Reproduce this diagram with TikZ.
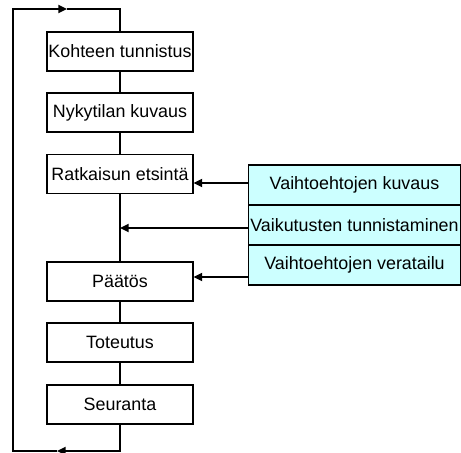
\documentclass[tikz,border=0pt]{standalone}
\usepackage{fontspec}
\setmainfont{Liberation Sans}
\usetikzlibrary{arrows.meta}
\definecolor{optfill}{HTML}{CCFFFF}
\tikzset{
  stepbox/.style={draw, line width=0.8pt, fill=white, inner sep=0pt,
    minimum width=109.5pt, minimum height=29.25pt, font=\fontsize{13.4}{15}\selectfont},
  optbox/.style={draw, line width=0.8pt, fill=optfill, inner sep=0pt,
    minimum width=159pt, minimum height=30pt, font=\fontsize{13.4}{15}\selectfont},
  flow/.style={line width=1.3pt},
  arr/.style={line width=1.3pt, -{Triangle[length=6.5pt,width=6pt]}}
}
\begin{document}
\begin{tikzpicture}[x=0.75pt, y=-0.75pt]
    % Frame of the picture
    \useasboundingbox (0,0) rectangle (461,453);

    % Main steps, top to bottom
    \node[stepbox] (ko) at (120, 51.5) {Kohteen tunnistus};
    \node[stepbox] (ny) at (120, 112.5) {Nykytilan kuvaus};
    \node[stepbox] (ra) at (120, 174) {Ratkaisun etsintä};
    \node[stepbox] (pa) at (120, 281.5) {Päätös};
    \node[stepbox] (to) at (120, 342.5) {Toteutus};
    \node[stepbox] (se) at (120, 404.5) {Seuranta};

    % Connections between steps
    \draw[flow] (ko) -- (ny);
    \draw[flow] (ny) -- (ra);
    \draw[flow] (ra) -- (pa);
    \draw[flow] (pa) -- (to);
    \draw[flow] (to) -- (se);

    % Alternatives (right side)
    \node[optbox] (v1) at (354.5, 185) {Vaihtoehtojen kuvaus};
    \node[optbox] (v2) at (354.5, 225) {Vaikutusten tunnistaminen};
    \node[optbox] (v3) at (354.5, 265) {Vaihtoehtojen veratailu};

    % Inputs from the alternatives
    \coordinate (in1) at (249, 183);
    \coordinate (in2) at (249, 228);
    \coordinate (in3) at (249, 277);
    \draw[arr] (in1) -- (in1 -| ra.east);
    \draw[arr] (in2) -- (in2 -| ra.south);
    \draw[arr] (in3) -- (in3 -| pa.east);

    % Feedback loop
    \coordinate (b1) at (57, 451);
    \coordinate (bl) at (13, 451);
    \coordinate (tl) at (13, 9);
    \coordinate (t1) at (67, 9);
    \draw[arr] (se.south) |- (b1);
    \draw[arr] (b1) -- (bl) -- (tl) -- (t1);
    \draw[flow] (t1) -| (ko.north);
\end{tikzpicture}
\end{document}
